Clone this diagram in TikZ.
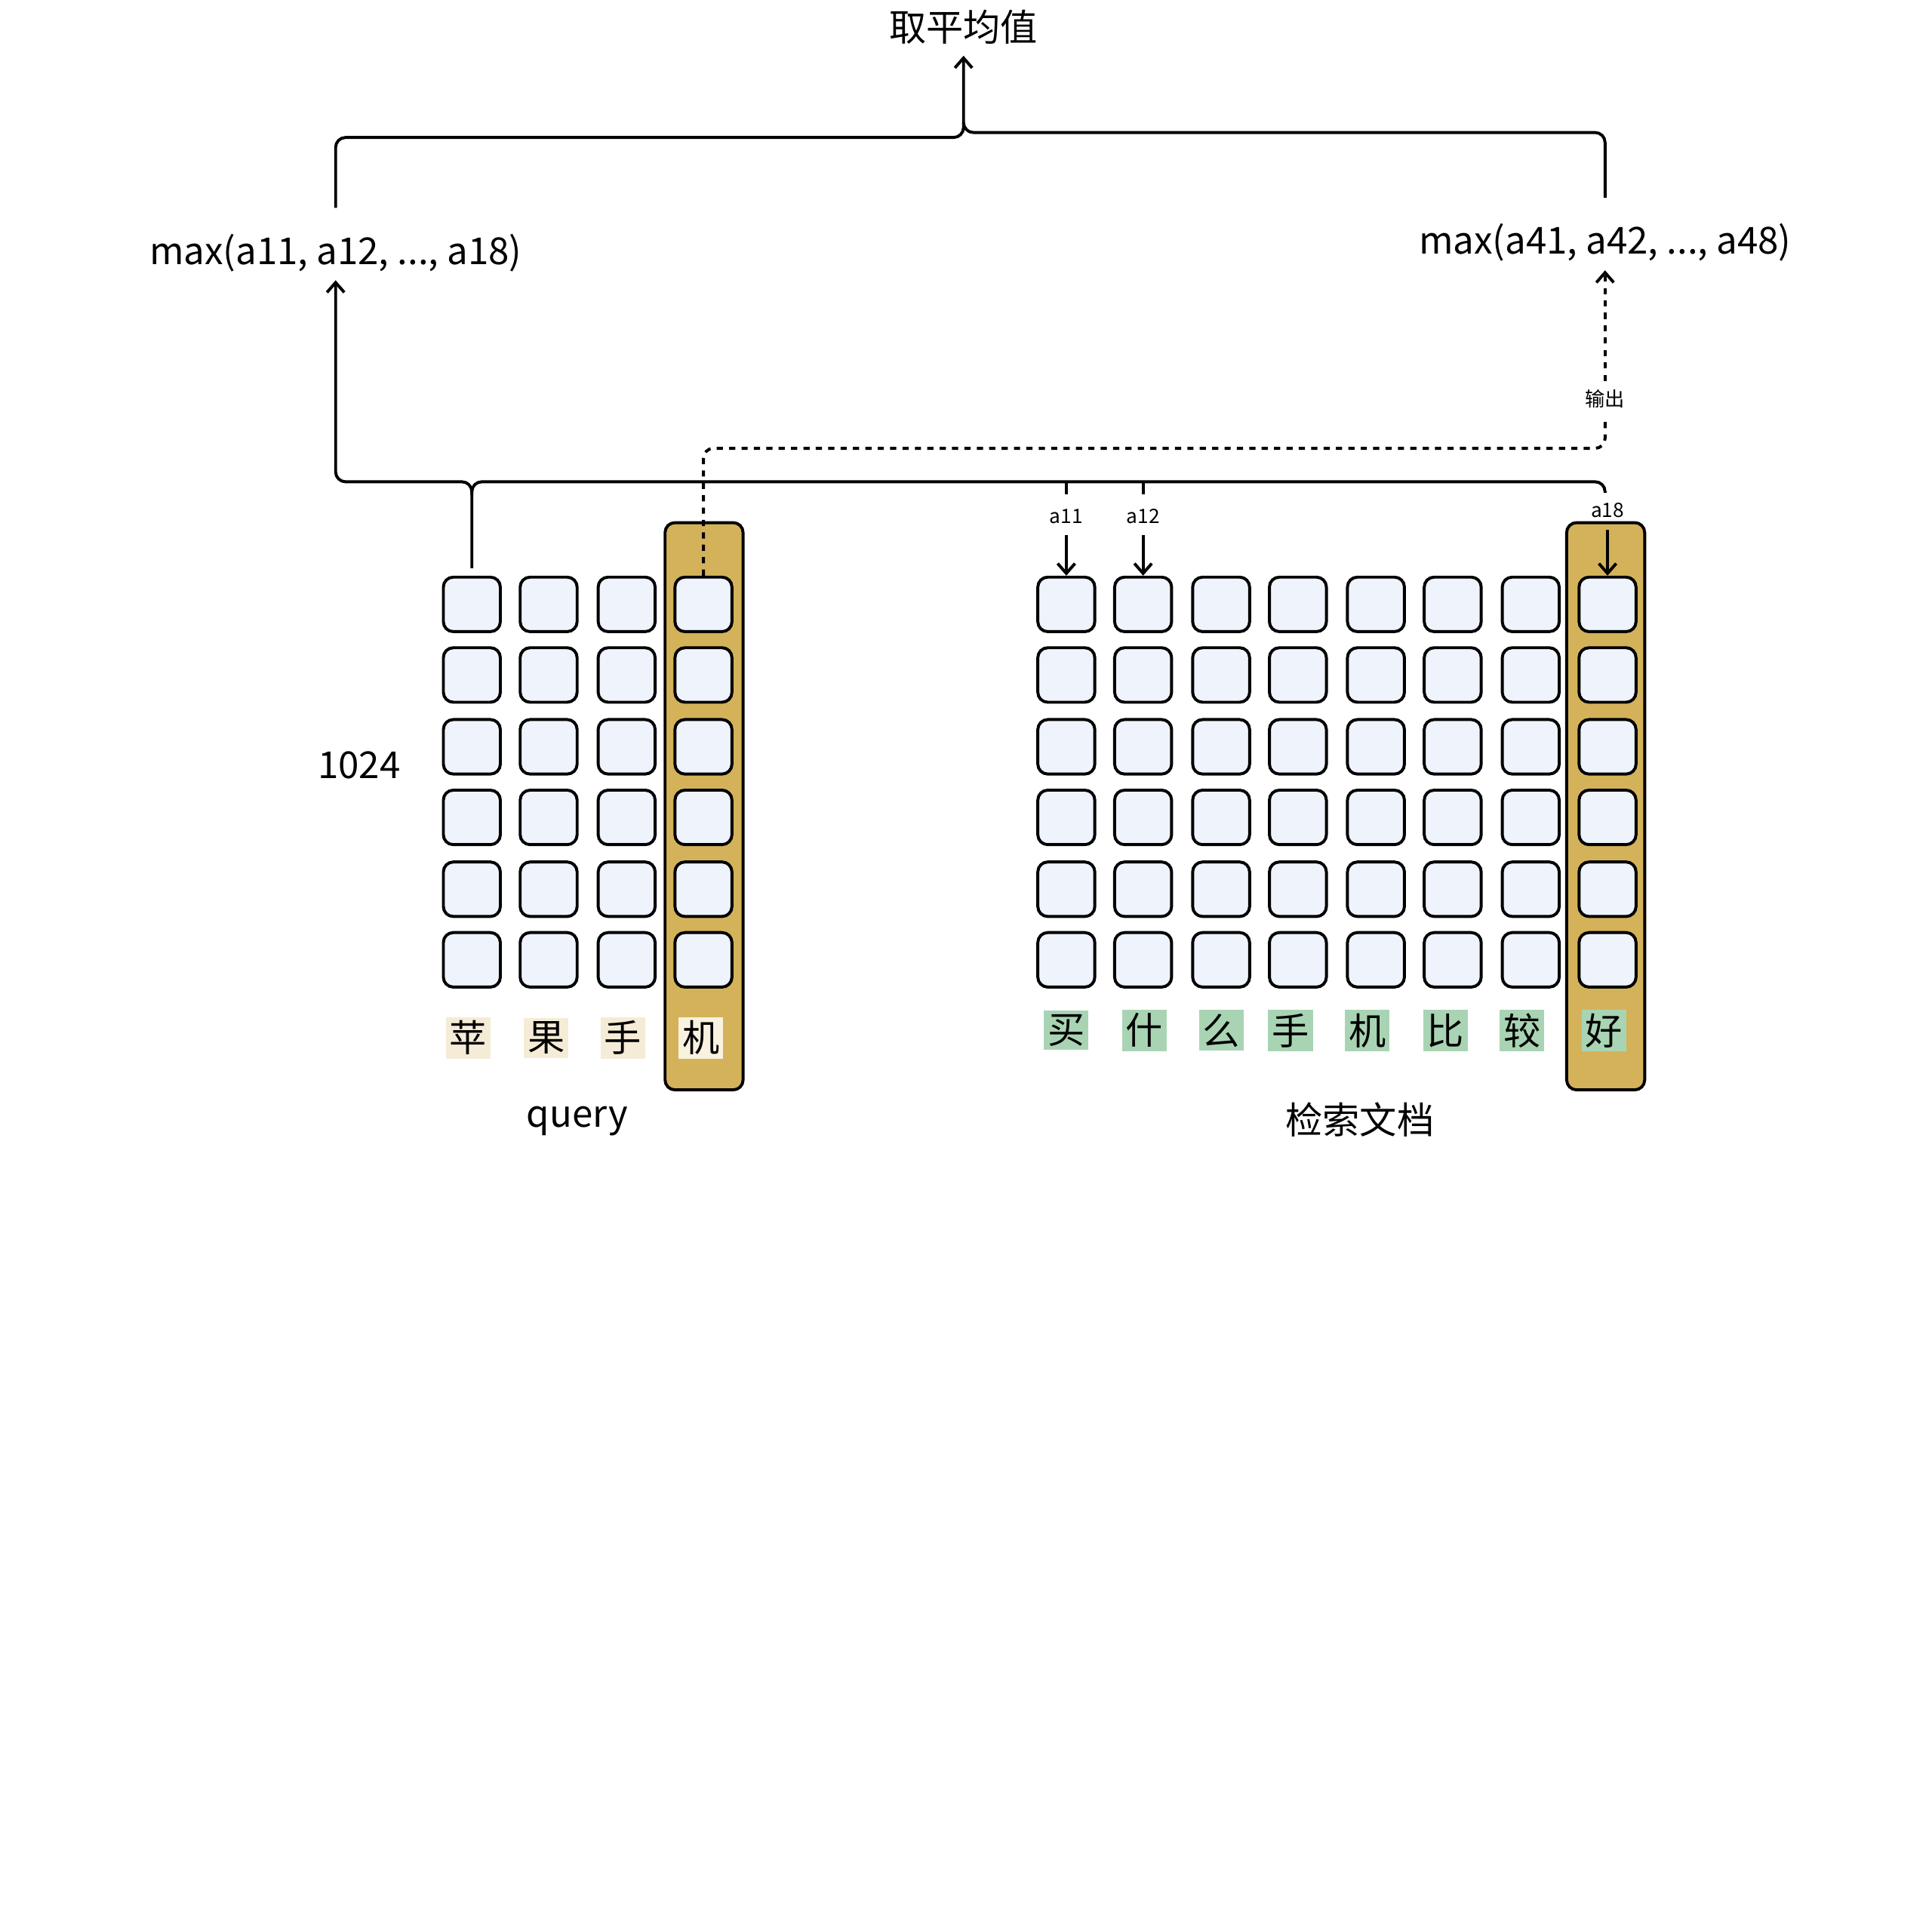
\documentclass[tikz,border=0pt]{standalone}
\usepackage{fontspec}
\setmainfont{Noto Sans CJK SC}
\usetikzlibrary{arrows.meta}
\definecolor{cellfill}{HTML}{EEF3FC}
\definecolor{gold}{HTML}{D4B25A}
\definecolor{beige}{HTML}{F5ECD7}
\definecolor{beigeL}{HTML}{F8F2DF}
\definecolor{greenbg}{HTML}{A9D4B4}
\begin{document}
\begin{tikzpicture}[x=0.5pt,y=-0.5pt,
  cell/.style={draw=black,line width=1.2pt,fill=cellfill,rounded corners=4pt,minimum width=23pt,minimum height=22pt,inner sep=0},
  goldcol/.style={draw=black,line width=1.2pt,fill=gold,rounded corners=4pt},
  ln/.style={line width=1.2pt,rounded corners=4pt},
  arr/.style={ln,-{Straight Barb[length=4pt,width=7pt]}},
  dot/.style={line width=1.2pt,dash pattern=on 2.5pt off 2.5pt,rounded corners=4pt},
  ch/.style={font=\fontsize{15}{15}\selectfont,inner sep=1.5pt},
  lab/.style={font=\fontsize{15}{18}\selectfont},
  sm/.style={font=\fontsize{8}{9}\selectfont}]
\useasboundingbox (0,0) rectangle (1560,1560);
\draw[goldcol] (537,422) rectangle (600,880);
\draw[goldcol] (1265,422) rectangle (1328,880);
\foreach \x [count=\i] in {381,443,506,568}
  \foreach \y [count=\j] in {488,545,603,660,718,775}
    \node[cell] (q\i-\j) at (\x,\y) {};
\foreach \x [count=\i] in {861,923,986,1048,1111,1173,1236,1298}
  \foreach \y [count=\j] in {488,545,603,660,718,775}
    \node[cell] (d\i-\j) at (\x,\y) {};
\node[ch,fill=beige] (t1) at (378,838) {苹};
\node[ch,fill=beige] (t2) at (441,838) {果};
\node[ch,fill=beige] (t3) at (503,838) {手};
\node[ch,fill=beigeL] (t4) at (566,838) {机};
\foreach \c/\x [count=\i] in {买/861,什/924,么/986,手/1042,机/1104,比/1167,较/1229,好/1295}
  \node[ch,fill=greenbg] (u\i) at (\x,832) {\c};
\node[lab] (query) at (466,905) {query};
\node[lab] (doc) at (1098,904) {检索文档};
\node[lab] (n1024) at (290,618) {1024};
\node[lab] (avg) at (778,22) {取平均值};
\node[lab] (maxL) at (271,204) {max(a11, a12, ..., a18)};
\node[lab] (maxR) at (1296,196) {max(a41, a42, ..., a48)};
\node[sm] (a11) at (861,417) {a11};
\node[sm] (a12) at (923,417) {a12};
\node[sm] (a18) at (1298,412) {a18};
\node[sm] (out) at (1296,322) {输出};
\coordinate (top) at (778,45);
% top brackets
\draw[arr] (maxL.north) ++(0,-14) -- (271,111) -- (778,111) -- (top);
\draw[ln] (maxR.north) ++(0,-14) -- (1296,107) -- (778,107) -- (778,100);
% left max arrow
\draw[arr] (q1-1.north) ++(0,-6) -- (381,389) -- (271,389) -- (maxL.south);
\draw[ln] (381,400) -- (381,389) -- (1296,389) -- (1296,398);
\draw[ln] (861,389) -- (861,399);
\draw[ln] (923,389) -- (923,399);
\draw[arr] (861,432) -- (d1-1.north);
\draw[arr] (923,432) -- (d2-1.north);
\draw[arr] (1298,428) -- (d8-1.north);
% dotted output
\draw[dot] (q4-1.north) -- (568,362) -- (1296,362) -- (out.south);
\draw[dot,-{Straight Barb[length=4pt,width=7pt]}] (out.north) -- (maxR.south);
\end{tikzpicture}
\end{document}
